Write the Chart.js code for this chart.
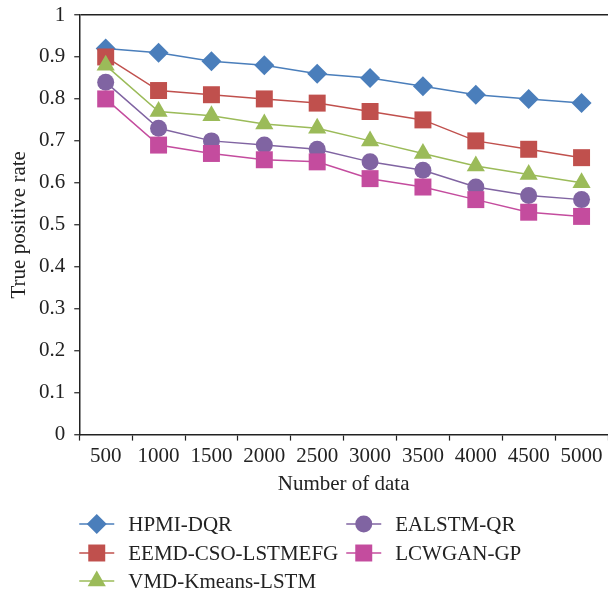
<!DOCTYPE html>
<html>
<head>
<meta charset="utf-8">
<script src="https://cdn.jsdelivr.net/npm/chart.js@4/dist/chart.umd.min.js"></script>
<style>
html,body{margin:0;padding:0;background:#fff;}
#wrap{width:608px;height:596px;position:relative;}
</style>
</head>
<body>
<div id="wrap"><canvas id="c" width="608" height="596"></canvas></div>
<script>
const categories = ['500','1000','1500','2000','2500','3000','3500','4000','4500','5000'];
const seriesNames = ['HPMI-DQR','EEMD-CSO-LSTMEFG','VMD-Kmeans-LSTM','EALSTM-QR','LCWGAN-GP'];
const hpmiDqr   = [0.92,0.91,0.89,0.88,0.86,0.85,0.83,0.81,0.80,0.79];
const eemdCso   = [0.90,0.82,0.81,0.80,0.79,0.77,0.75,0.70,0.68,0.66];
const vmdKmeans = [0.88,0.77,0.76,0.74,0.73,0.70,0.67,0.64,0.62,0.60];
const ealstmQr  = [0.84,0.73,0.70,0.69,0.68,0.65,0.63,0.59,0.57,0.56];
const lcwganGp  = [0.80,0.69,0.67,0.655,0.65,0.61,0.59,0.56,0.53,0.52];
const yTicks = [0,0.1,0.2,0.3,0.4,0.5,0.6,0.7,0.8,0.9,1];

const seriesValues = [hpmiDqr, eemdCso, vmdKmeans, ealstmQr, lcwganGp];
const colors = ['#4A7EBB','#C0504D','#9BBB59','#8064A2','#C44C9E'];
const shapes = ['rectRot','rect','triangle','circle','rect'];
const radii = [10,12,10.5,8.5,12];
const FONT = "'Liberation Serif', 'Times New Roman', serif";
const FS = 21;

const datasets = seriesValues.map((vals,i)=>({
  label: seriesNames[i],
  data: vals,
  borderColor: colors[i],
  backgroundColor: colors[i],
  pointBackgroundColor: colors[i],
  pointBorderColor: colors[i],
  pointBorderWidth: 0,
  borderWidth: 1.5,
  pointStyle: shapes[i],
  pointRadius: radii[i],
  pointHoverRadius: radii[i],
  tension: 0,
  fill: false,
  clip: false,
  order: seriesValues.length - 1 - i
}));

const legendPlugin = {
  id: 'gridLegend',
  afterDraw(chart){
    const ctx = chart.ctx;
    const left = chart.chartArea.left;
    const cols = [left, left + 267];
    const rows = [524, 553, 581];
    const slots = [[0,0],[0,1],[0,2],[1,0],[1,1]];
    ctx.save();
    slots.forEach((s,i)=>{
      const x0 = cols[s[0]], y = rows[s[1]];
      ctx.strokeStyle = colors[i];
      ctx.lineWidth = 1.5;
      ctx.beginPath();
      ctx.moveTo(x0, y);
      ctx.lineTo(x0 + 35, y);
      ctx.stroke();
      ctx.fillStyle = colors[i];
      ctx.strokeStyle = colors[i];
      ctx.lineWidth = 0;
      Chart.helpers.drawPoint(ctx, {pointStyle: shapes[i], radius: radii[i], borderWidth: 0, rotation: 0}, x0 + 17.5, y);
      ctx.fillStyle = '#222';
      ctx.font = FS + "px " + FONT;
      ctx.textBaseline = 'middle';
      ctx.textAlign = 'left';
      ctx.fillText(seriesNames[i], x0 + 49, y + 1);
    });
    ctx.restore();
  }
};

new Chart(document.getElementById('c'), {
  type: 'line',
  data: { labels: categories, datasets: datasets },
  plugins: [legendPlugin],
  options: {
    responsive: false,
    animation: false,
    events: [],
    layout: { autoPadding: false, padding: { top: 0, right: 0, left: 9, bottom: 99 } },
    plugins: {
      legend: { display: false },
      tooltip: { enabled: false }
    },
    scales: {
      x: {
        offset: true,
        afterFit(scale){ scale.paddingRight = 0; scale.paddingLeft = 0; },
        grid: {
          offset: true,
          drawOnChartArea: false,
          drawTicks: true,
          tickLength: 6,
          tickColor: '#222',
          tickWidth: 1.2
        },
        border: { color: '#222', width: 1.5 },
        ticks: { color: '#222', font: { family: FONT, size: FS }, padding: 3, maxRotation: 0, autoSkip: false },
        title: { display: true, text: 'Number of data', color: '#222', font: { family: FONT, size: FS }, padding: { top: 0, bottom: 0 } }
      },
      y: {
        min: 0,
        max: 1,
        afterFit(scale){ scale.paddingTop = 15; scale.paddingBottom = 0; },
        afterBuildTicks(scale){ scale.ticks = yTicks.map(v=>({value:v})); },
        grid: {
          drawOnChartArea: true,
          color: (c)=> (c.tick && c.tick.value === 1) ? '#222' : 'rgba(0,0,0,0)',
          tickColor: '#222',
          tickLength: 5,
          lineWidth: 1.5,
          tickWidth: 1.2
        },
        border: { color: '#222', width: 1.5 },
        ticks: {
          color: '#222',
          font: { family: FONT, size: FS },
          padding: 9,
          callback: (v)=> String(v)
        },
        title: { display: true, text: 'True positive rate', color: '#222', font: { family: FONT, size: FS, lineHeight: 1.0 }, padding: { top: 0, bottom: 0 } }
      }
    }
  }
});
</script>
</body>
</html>
